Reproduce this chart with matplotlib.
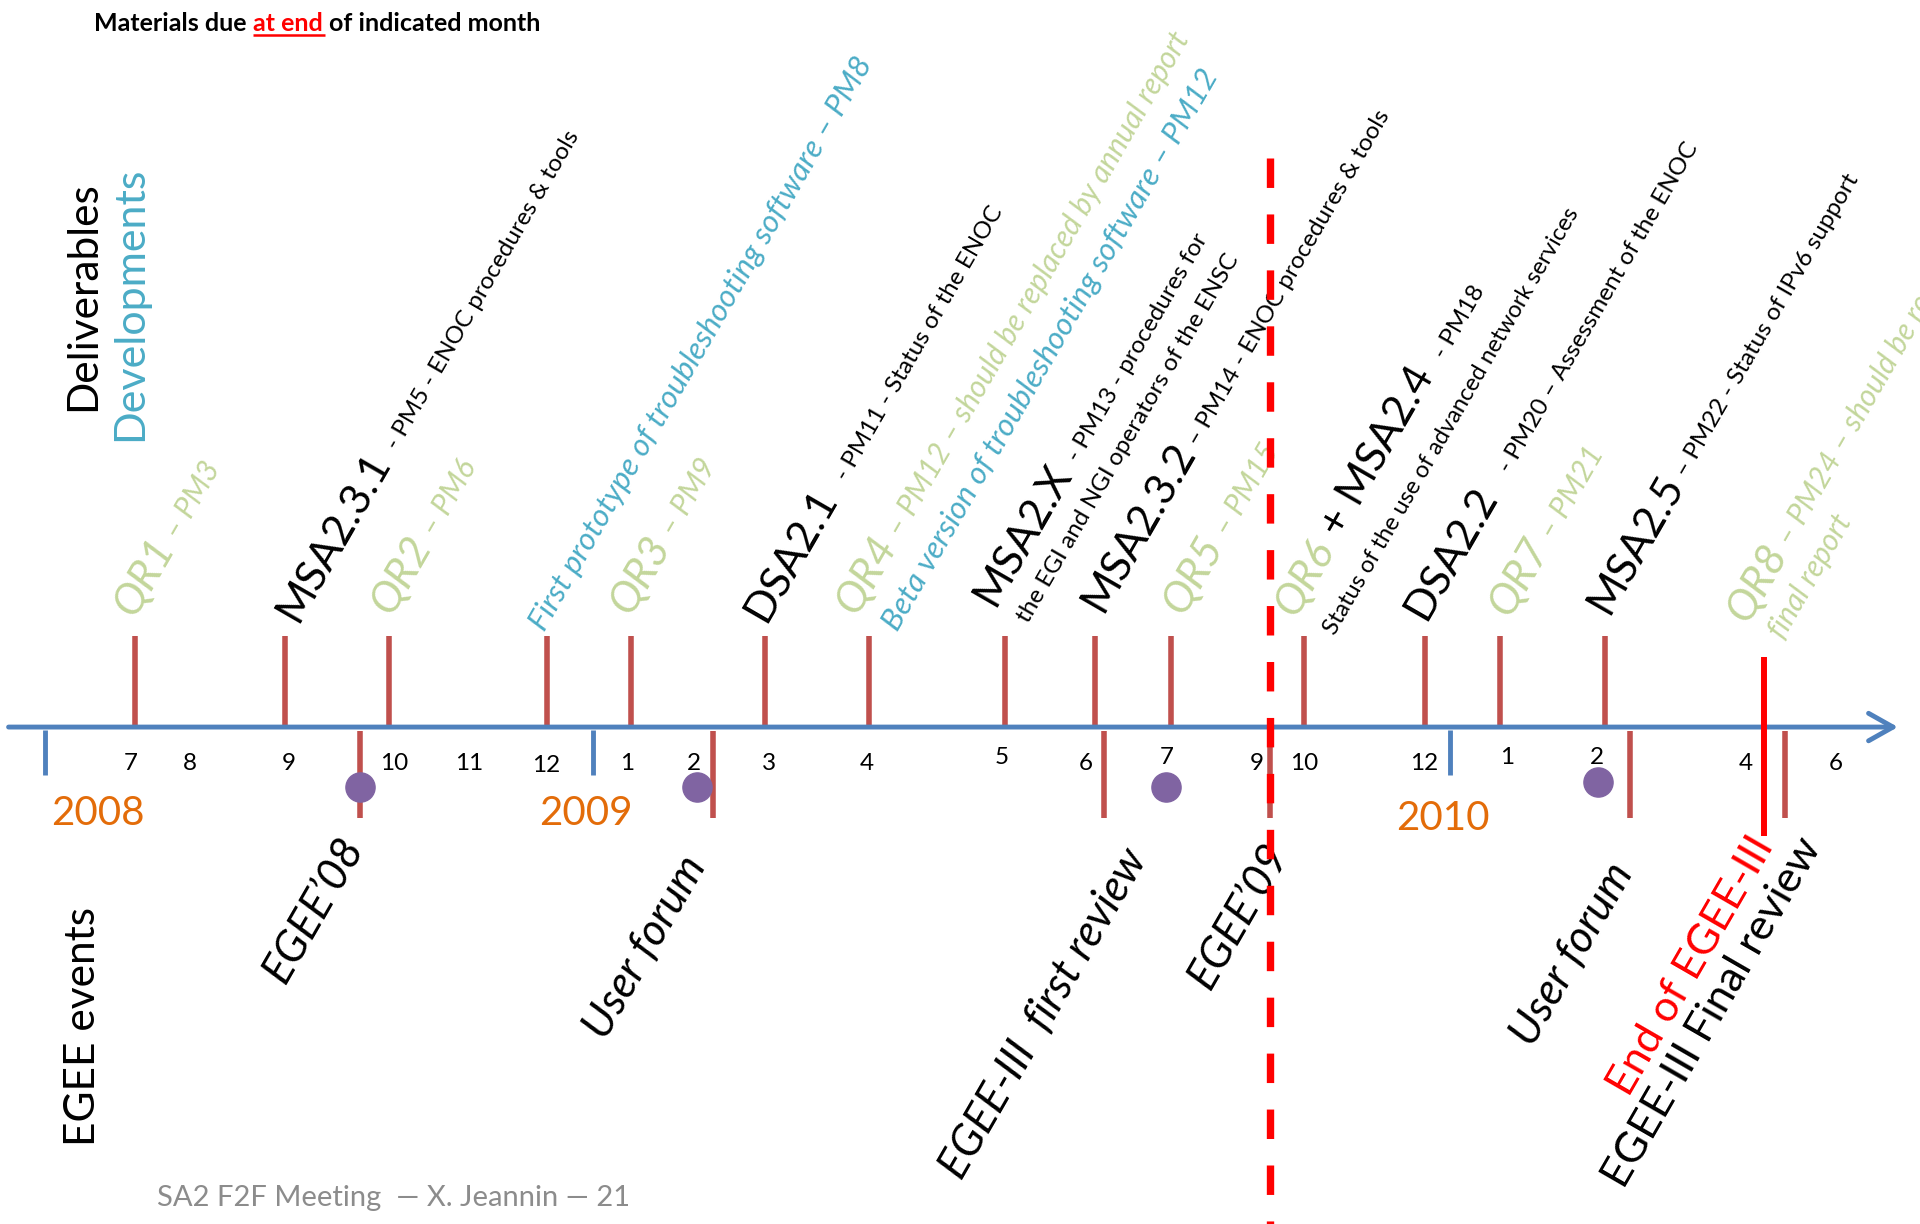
import math
import matplotlib
matplotlib.use("Agg")
import matplotlib.pyplot as plt
from matplotlib.transforms import IdentityTransform

plt.rcParams['font.family'] = ['Lato', 'DejaVu Sans']

# timeline scale (slide units, x to the right, y downwards)
month_labels = ['7', '8', '9', '10', '11', '12', '1', '2', '3', '4', '5', '6',
                '7', '9', '10', '12', '1', '2', '4', '6']
month_x = [107, 155, 236, 322, 383, 446, 512, 567, 628, 708, 818, 887,
           953, 1026, 1065, 1163, 1231, 1304, 1426, 1499]
month_dy = [0, 0, 0, 0, 0, 2, 0, 0, 0, 0, -5, 0, -5, 0, 0, 0, -5, -5, 0, 0]

year_labels = ['2008', '2009', '2010']
year_x = [37, 484, 1184]

# deliverables / developments above the line
deliv_x = [110, 233, 318, 447, 515, 625, 710, 821, 894, 956, 1065, 1164, 1225, 1311]
deliv_parts = [
    [("QR1", 'qr'), (" – PM3", 'qrs')],
    [("MSA2.3.1", 'big'), ("  - PM5 - ENOC procedures & tools", 'small')],
    [("QR2", 'qr'), (" – PM6", 'qrs')],
    [("First prototype of troubleshooting software – PM8", 'dev')],
    [("QR3", 'qr'), (" – PM9", 'qrs')],
    [("DSA2.1", 'big'), ("   - PM11 - Status of the ENOC", 'small')],
    [("QR4", 'qr'), (" – PM12 – should be replaced by annual report", 'qrs')],
    [("MSA2.X", 'big'), ("  - PM13 - procedures for", 'small')],
    [("MSA2.3.2", 'big'), (" – PM14 - ENOC procedures & tools", 'small')],
    [("QR5", 'qr'), (" – PM15", 'qrs')],
    [("QR6", 'qr'), (" + MSA2.4", 'big'), ("   - PM18", 'small')],
    [("DSA2.2", 'big'), ("    - PM20 – Assessment of the ENOC", 'small')],
    [("QR7", 'qr'), (" – PM21", 'qrs')],
    [("MSA2.5", 'big'), (" – PM22 - Status of IPv6 support", 'small')],
]
deliv_anchor = [(110, 505), (243, 510), (320, 503), (445, 517), (515, 503),
                (625, 510), (700, 503), (812, 497), (900, 502), (967, 503),
                (1058, 505), (1164, 508), (1233, 505), (1313, 503)]

# second lines
extra_parts = [
    [("Beta version of troubleshooting software – PM12", 'dev')],
    [("the EGI and NGI operators of the ENSC", 'small')],
    [("Status of the use of advanced network services", 'small2')],
    [("QR8", 'qr'), (" – PM24 – should be replaced by", 'qrs')],
    [("final report", 'qrs')],
]
extra_anchor = [(733, 517), (840, 510), (1090, 520), (1427, 510), (1457, 523)]

# EGEE events below the line
event_x = [294, 582, 902, 1037, 1331, 1458]
event_labels = ["EGEE’08", "User forum", "EGEE-III  first review", "EGEE’09",
                "User forum", "EGEE-III Final review"]
event_kind = ['ev', 'ev', 'ev', 'ev', 'ev', 'evu']
event_anchor = [(233, 805), (495, 851), (785, 965), (988, 810), (1252, 857), (1326, 972)]
dot_x = [294, 569, 952, 1305]
dot_y = [643, 643, 643, 639]

egee09_x = 1037
end_x = 1441

GREEN = '#c3d69b'
BLUE = '#4bacc6'
AXIS = '#4f81bd'
STEM = '#c0504d'
ORANGE = '#e36c09'
PURPLE = '#8064a2'
RED = '#ff0000'

STY = {
    'qr': dict(fontsize=31, color=GREEN, style='italic'),
    'qrs': dict(fontsize=21.5, color=GREEN, style='italic'),
    'big': dict(fontsize=31, color='black'),
    'small': dict(fontsize=17.5, color='black'),
    'small2': dict(fontsize=17, color='black'),
    'dev': dict(fontsize=22.5, color=BLUE, style='italic'),
    'ev': dict(fontsize=31.5, color='black', style='italic'),
    'evu': dict(fontsize=31, color='black'),
    'end': dict(fontsize=31, color=RED),
    'title': dict(fontsize=18, color='black', weight='bold'),
    'title_red': dict(fontsize=18, color=RED, weight='bold'),
}

fig = plt.figure(figsize=(19.2, 12.24), dpi=100)
ax = fig.add_axes([0, 0, 1, 1])
ax.set_xlim(0, 1568)
ax.set_ylim(1000, 0)
ax.axis('off')
renderer = fig.canvas.get_renderer()


def text_width(s, kw):
    t = ax.text(0, 0, s, **kw)
    w = t.get_window_extent(renderer).width
    t.remove()
    return w


def chain(x, y, parts, angle=60):
    # write text pieces one after another along a rotated baseline
    px, py = ax.transData.transform((x, y))
    ca, sa = math.cos(math.radians(angle)), math.sin(math.radians(angle))
    spans = []
    for txt, kind in parts:
        kw = STY[kind]
        body = txt.lstrip(' ')
        n = len(txt) - len(body)
        if n:
            sp = n * (text_width('x x', kw) - text_width('xx', kw))
            px += sp * ca
            py += sp * sa
        ax.text(px, py, body, transform=IdentityTransform(), rotation=angle,
                rotation_mode='anchor', ha='left', va='baseline', **kw)
        w = text_width(body, kw)
        spans.append((px, py, px + w * ca, py + w * sa))
        px += w * ca
        py += w * sa
    return spans


# title
spans = chain(77, 25, [("Materials due", 'title'), (" at end", 'title_red'),
                       (" of indicated month", 'title')], angle=0)
inv = ax.transData.inverted()
x0, _ = inv.transform((spans[1][0], spans[1][1]))
x1, _ = inv.transform((spans[2][0], spans[2][1]))
ax.plot([x0, x1 - 3], [28.5, 28.5], color=RED, lw=1.8, solid_capstyle='butt')

# side headings
ax.text(68, 242, 'Deliverables', rotation=90, ha='center', va='center', fontsize=30.5)
ax.text(106, 248, 'Developments', rotation=90, ha='center', va='center',
        fontsize=31, color=BLUE)
ax.text(68, 839, 'EGEE events', rotation=90, ha='center', va='center', fontsize=30.5)

# time axis
ax.annotate('', xy=(1550, 594), xytext=(7, 594),
            arrowprops=dict(arrowstyle='->,head_length=0.8,head_width=0.45',
                            color=AXIS, lw=3.5, shrinkA=0, shrinkB=0,
                            mutation_scale=22), zorder=3)
ax.vlines(year_x, 596, 633, color=AXIS, lw=3.5, zorder=3)
for lab, x, dy in zip(month_labels, month_x, month_dy):
    ax.text(x, 629 + dy, lab, ha='center', va='baseline', fontsize=17.5)
for lab, x, base in zip(year_labels, [42, 440, 1140], [674, 674, 678]):
    ax.text(x, base, lab, ha='left', va='baseline', fontsize=29, color=ORANGE)

# deliverables
ax.vlines(deliv_x, 520, 594, color=STEM, lw=4, zorder=2)
for parts, (x, y) in zip(deliv_parts, deliv_anchor):
    chain(x, y, parts)
for parts, (x, y) in zip(extra_parts, extra_anchor):
    chain(x, y, parts)

# events
ax.vlines(event_x, 597, 668, color=STEM, lw=4, zorder=2)
ax.plot(dot_x, dot_y, 'o', color=PURPLE, ms=21, zorder=4)
for lab, kind, (x, y) in zip(event_labels, event_kind, event_anchor):
    chain(x, y, [(lab, kind)])
chain(1330, 897, [("End of EGEE-III", 'end')])

# EGEE'09 and end of project markers
ax.plot([egee09_x, egee09_x], [129, 1000], color=RED, lw=5.3,
        linestyle=(0, (4.0, 3.6)), zorder=5)
ax.vlines(end_x, 537, 683, color=RED, lw=4.3, zorder=5)

ax.text(128, 985, 'SA2 F2F Meeting  — X. Jeannin — 21', ha='left', va='baseline',
        fontsize=21, color='#8c8c8c')

fig.savefig('out.png', dpi=100)
